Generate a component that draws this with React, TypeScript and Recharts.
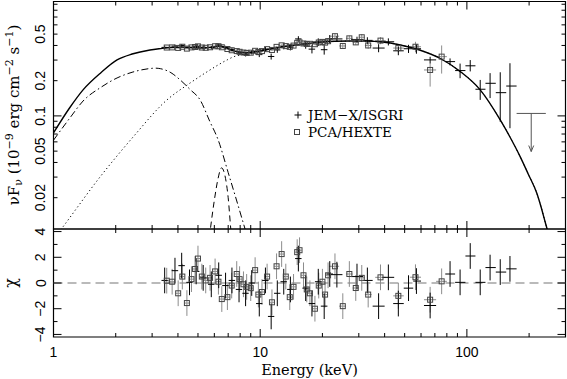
import React from "react";
import {
  ComposedChart,
  Line,
  Scatter,
  XAxis,
  YAxis,
  ErrorBar,
  ReferenceArea,
  ReferenceLine,
} from "recharts";

// ---------- layout ----------
const W = 567;
const H = 379;
const LEFT = 53.5;
const RIGHT = 565.5;
const TOP1 = 1.5;
const MID = 229;
const BOT2 = 337;
const AX = 1; // minimal axis thickness so that Recharts renders the ticks

const E_MIN = 1;
const E_MAX = 300;
const F_MIN = 0.0108;
const F_MAX = 0.95;
const CHI_MIN = -4.2;
const CHI_MAX = 4.2;

// ---------- ticks ----------
const xTicks = [1, 2, 3, 4, 5, 6, 7, 8, 9, 10, 20, 30, 40, 50, 60, 70, 80, 90, 100, 200];
const xMajor = [1, 10, 100];
const xLabels = [1, 10, 100];
const fluxTicks = [0.02, 0.03, 0.04, 0.05, 0.06, 0.07, 0.08, 0.09, 0.1, 0.2, 0.3, 0.4, 0.5, 0.6, 0.7, 0.8, 0.9];
const fluxMajor = [0.1];
const fluxLabels = [0.02, 0.05, 0.1, 0.2, 0.5];
const chiTicks = [-4, -3, -2, -1, 0, 1, 2, 3, 4];
const chiMajor = [-4, -2, 0, 2, 4];
const chiLabels = [-4, -2, 0, 2, 4];

// ---------- model curves (keV, nuFnu) ----------
const totalE = [1, 1.2, 1.39, 1.7, 2.03, 2.4, 2.93, 3.3, 3.7, 4.2, 4.8, 5.4, 6.0, 6.4, 6.8, 7.2, 7.6, 8.0, 8.6, 9.2, 10, 11, 12, 13, 14.5, 16, 18, 20, 23, 27, 32, 39, 47, 59, 74, 93, 116, 145, 161.6, 181, 198, 218, 228, 241, 260];
const totalV = [0.0716, 0.118, 0.167, 0.235, 0.301, 0.338, 0.366, 0.376, 0.384, 0.387, 0.382, 0.381, 0.388, 0.395, 0.386, 0.367, 0.356, 0.35, 0.347, 0.351, 0.36, 0.371, 0.381, 0.39, 0.401, 0.411, 0.421, 0.428, 0.434, 0.437, 0.436, 0.428, 0.406, 0.366, 0.311, 0.239, 0.167, 0.0924, 0.066, 0.0449, 0.0319, 0.0218, 0.0169, 0.0118, 0.0075];

const compE = [1.0, 1.1, 1.68, 2.43, 3.54, 4.58, 5.53, 6.92, 7.4, 8.6, 10.3, 12.9, 16.2, 21, 27.2, 32, 39, 47, 59, 74, 93, 116, 145, 161.6, 181, 198, 218, 228, 241, 260];
const compV = [0.0088, 0.011, 0.0301, 0.0662, 0.137, 0.191, 0.238, 0.301, 0.319, 0.34, 0.36, 0.389, 0.412, 0.43, 0.436, 0.436, 0.428, 0.406, 0.366, 0.311, 0.239, 0.167, 0.0924, 0.066, 0.0449, 0.0319, 0.0218, 0.0169, 0.0118, 0.0075];

const diskE = [1, 1.2, 1.39, 1.7, 2.03, 2.4, 2.93, 3.1, 3.3, 3.7, 4.1, 4.6, 5.12, 5.7, 6.26, 7.0, 7.6, 8.45, 9.0];
const diskV = [0.062, 0.096, 0.134, 0.176, 0.211, 0.236, 0.254, 0.256, 0.253, 0.234, 0.203, 0.167, 0.137, 0.09, 0.0624, 0.0328, 0.0203, 0.0108, 0.0075];

const lineE = [5.6, 5.75, 6.0, 6.25, 6.5, 6.75, 7.0, 7.2, 7.35];
const lineV = [0.0075, 0.011, 0.019, 0.029, 0.036, 0.031, 0.02, 0.011, 0.0075];

// ---------- PCA ----------
const pcaE = [3.53, 3.75, 4.01, 4.2, 4.42, 4.65, 4.84, 5.0, 5.22, 5.45, 5.72, 6.05, 6.28, 6.52, 6.94, 7.28, 7.7, 7.95, 8.3, 8.6, 9.0, 9.45, 9.8, 10.2, 10.8, 11.4, 12.0, 12.7, 13.3, 13.9, 14.5, 15.1, 15.5, 16.2, 16.8, 17.4, 18.4, 19.2, 20.0, 20.6, 21.3];
const pcaHalf = [0.09, 0.09, 0.1, 0.1, 0.11, 0.12, 0.12, 0.12, 0.13, 0.14, 0.14, 0.15, 0.16, 0.16, 0.17, 0.18, 0.19, 0.2, 0.21, 0.21, 0.22, 0.24, 0.25, 0.26, 0.27, 0.28, 0.3, 0.32, 0.33, 0.35, 0.36, 0.38, 0.39, 0.4, 0.42, 0.44, 0.46, 0.48, 0.5, 0.52, 0.53];
const pcaFlux = [0.384, 0.385, 0.381, 0.39, 0.376, 0.385, 0.388, 0.393, 0.384, 0.382, 0.386, 0.394, 0.394, 0.386, 0.373, 0.364, 0.358, 0.353, 0.348, 0.345, 0.347, 0.36, 0.352, 0.358, 0.372, 0.366, 0.389, 0.401, 0.395, 0.389, 0.399, 0.421, 0.425, 0.416, 0.412, 0.413, 0.41, 0.424, 0.429, 0.423, 0.435];
const pcaErr = [0.005, 0.005, 0.005, 0.005, 0.005, 0.005, 0.005, 0.005, 0.005, 0.005, 0.006, 0.006, 0.006, 0.006, 0.006, 0.006, 0.006, 0.006, 0.006, 0.006, 0.007, 0.007, 0.007, 0.007, 0.007, 0.007, 0.007, 0.007, 0.007, 0.007, 0.008, 0.008, 0.008, 0.008, 0.008, 0.008, 0.008, 0.008, 0.008, 0.008, 0.008];
const pcaChi = [0.18, 0.1, -0.8, 0.5, -1.56, 0.3, 1.09, 1.9, 0.5, 0.2, 0.4, 0.9, 0.1, -1.25, -1.1, -0.2, 0.7, 0.3, -0.1, -0.3, -0.4, 1.0, -0.9, -0.7, 0.5, -1.5, 1.3, 2.25, 0.5, -1.1, -0.3, 2.4, 2.55, 0.6, -0.5, -0.8, -2.0, -0.2, 0.1, -0.9, 0.6];

// ---------- HEXTE ----------
const hexE = [23.0, 25.1, 27.0, 29.0, 31.0, 33.3, 38.2, 46.6, 56.4, 66.4, 75.5];
const hexLo = [21.6, 24.1, 26.0, 28.0, 30.0, 32.1, 36.0, 44.0, 53.0, 62.0, 71.0];
const hexHi = [24.1, 26.0, 28.0, 30.0, 32.1, 34.6, 40.5, 49.5, 60.0, 71.0, 80.0];
const hexFlux = [0.48, 0.396, 0.46, 0.425, 0.47, 0.4, 0.44, 0.38, 0.39, 0.247, 0.321];
const hexFluxLo = [0.455, 0.378, 0.435, 0.405, 0.44, 0.375, 0.41, 0.35, 0.35, 0.178, 0.23];
const hexFluxHi = [0.505, 0.414, 0.485, 0.445, 0.5, 0.425, 0.47, 0.41, 0.43, 0.28, 0.4];
const hexChi = [1.3, -1.8, 0.7, -0.39, 0.4, -0.9, 0.44, -1.0, 0.45, -1.3, 0.13];

// ---------- JEM-X ----------
const jemE = [3.45, 3.87, 4.17, 4.55, 4.9, 5.3, 5.8, 6.3, 6.8, 7.3, 7.9, 8.5, 9.1, 9.9, 10.6, 11.3, 12.1, 13.0, 14.0, 15.3, 16.6, 17.8, 19.1, 20.4, 21.7];
const jemHalf = [0.12, 0.14, 0.15, 0.16, 0.18, 0.19, 0.21, 0.23, 0.25, 0.26, 0.28, 0.3, 0.33, 0.35, 0.38, 0.4, 0.43, 0.46, 0.5, 0.55, 0.6, 0.65, 0.7, 0.75, 0.8];
const jemFlux = [0.385, 0.395, 0.4, 0.386, 0.393, 0.386, 0.384, 0.403, 0.383, 0.369, 0.343, 0.336, 0.35, 0.334, 0.371, 0.322, 0.366, 0.392, 0.386, 0.455, 0.403, 0.372, 0.428, 0.368, 0.455];
const jemErr = [0.012, 0.012, 0.01, 0.012, 0.012, 0.012, 0.013, 0.013, 0.014, 0.014, 0.014, 0.014, 0.015, 0.016, 0.017, 0.019, 0.02, 0.021, 0.023, 0.025, 0.028, 0.03, 0.032, 0.034, 0.036];
const jemChi = [0.2, 0.96, 1.35, 0.05, 0.9, 0.4, -0.1, 0.6, -0.2, 0.2, -0.5, -0.8, 0.0, -1.6, 0.2, -2.6, -0.8, 0.1, -0.5, 1.9, -0.4, -1.6, 0.1, -1.8, 0.7];

// ---------- ISGRI ----------
const isgE = [23.5, 29.4, 33.0, 37.4, 41.7, 46.6, 52.2, 57.0, 66.4, 82.9, 92.7, 103.8, 116, 129.5, 145, 161.6];
const isgLo = [22, 27.5, 31.5, 35, 39, 44, 49.5, 55, 62, 78.6, 87.7, 98.4, 110, 123, 138, 155];
const isgHi = [25, 31.5, 35, 40, 44.5, 49.5, 55, 60, 71, 87.7, 98.4, 110, 123, 138, 155, 174];
const isgFlux = [0.455, 0.45, 0.442, 0.38, 0.43, 0.36, 0.375, 0.375, 0.301, 0.291, 0.244, 0.268, 0.169, 0.19, 0.158, 0.18];
const isgFluxLo = [0.43, 0.425, 0.41, 0.35, 0.4, 0.33, 0.345, 0.34, 0.28, 0.27, 0.21, 0.24, 0.137, 0.142, 0.089, 0.0785];
const isgFluxHi = [0.48, 0.475, 0.47, 0.41, 0.46, 0.39, 0.405, 0.41, 0.32, 0.31, 0.28, 0.3, 0.203, 0.232, 0.236, 0.282];
const isgChi = [0.65, 0.5, 0.2, -1.8, 0.44, -1.6, -0.4, 0.15, -1.75, 0.7, 0.05, 2.1, 0.05, 1.2, 0.85, 1.1];

// ---------- ISGRI upper limit ----------
const ulE = [204.8];
const ulLo = [174];
const ulHi = [241];
const ulV = [0.105];
const ulTip = [0.0496];

// ---------- tables built from the arrays ----------
const curve = (es: number[], vs: number[]) => es.map((e, i) => ({ e, v: vs[i] }));
const totalData = curve(totalE, totalV);
const compData = curve(compE, compV);
const diskData = curve(diskE, diskV);
const lineData = curve(lineE, lineV);

const pcaTop = [
  ...pcaE.map((e, i) => ({ e, v: pcaFlux[i], ex: [pcaHalf[i], pcaHalf[i]], ey: [pcaErr[i], pcaErr[i]] })),
  ...hexE.map((e, i) => ({
    e,
    v: hexFlux[i],
    ex: [e - hexLo[i], hexHi[i] - e],
    ey: [hexFlux[i] - hexFluxLo[i], hexFluxHi[i] - hexFlux[i]],
  })),
];
const jemTop = [
  ...jemE.map((e, i) => ({ e, v: jemFlux[i], ex: [jemHalf[i], jemHalf[i]], ey: [jemErr[i], jemErr[i]] })),
  ...isgE.map((e, i) => ({
    e,
    v: isgFlux[i],
    ex: [e - isgLo[i], isgHi[i] - e],
    ey: [isgFlux[i] - isgFluxLo[i], isgFluxHi[i] - isgFlux[i]],
  })),
];
const ulData = ulE.map((e, i) => ({ e, v: ulV[i], ex: [e - ulLo[i], ulHi[i] - e], ey: [ulV[i] - ulTip[i], 0] }));
const ulTipData = ulE.map((e, i) => ({ e, v: ulTip[i] }));

const pcaRes = [
  ...pcaE.map((e, i) => ({ e, v: pcaChi[i], ex: [pcaHalf[i], pcaHalf[i]], ey: 1 })),
  ...hexE.map((e, i) => ({ e, v: hexChi[i], ex: [e - hexLo[i], hexHi[i] - e], ey: 1 })),
];
const jemRes = [
  ...jemE.map((e, i) => ({ e, v: jemChi[i], ex: [jemHalf[i], jemHalf[i]], ey: 1 })),
  ...isgE.map((e, i) => ({ e, v: isgChi[i], ex: [e - isgLo[i], isgHi[i] - e], ey: 1 })),
];

// ---------- styles ----------
const SANS = "'Liberation Sans', Arial, sans-serif";
const SERIF = "'DejaVu Serif', 'Liberation Serif', serif";
const GRAY_BAR = "#8c8c8c";
const SQUARE = "#444";

// ---------- tick renderers ----------
function makeXTick(top: number, bottom: number, withLabels: boolean) {
  return (props: any) => {
    const { x, payload } = props;
    const v = payload.value as number;
    const len = xMajor.includes(v) ? 8 : 4;
    return (
      <g>
        <line x1={x} x2={x} y1={bottom} y2={bottom - len} stroke="#000" strokeWidth={1} />
        <line x1={x} x2={x} y1={top} y2={top + len} stroke="#000" strokeWidth={1} />
        {withLabels && xLabels.includes(v) ? (
          <text x={x} y={bottom + 20} textAnchor="middle" fontFamily={SANS} fontSize={14} fill="#000">
            {String(v)}
          </text>
        ) : null}
      </g>
    );
  };
}

function makeYTick(majors: number[], labels: number[]) {
  return (props: any) => {
    const { y, payload } = props;
    const v = payload.value as number;
    const len = majors.includes(v) ? 8 : 4;
    const lx = LEFT - 8;
    const txt = v < 0 ? "\u2212" + String(-v) : String(v);
    return (
      <g>
        <line x1={LEFT} x2={LEFT + len} y1={y} y2={y} stroke="#000" strokeWidth={1} />
        <line x1={RIGHT} x2={RIGHT - len} y1={y} y2={y} stroke="#000" strokeWidth={1} />
        {labels.includes(v) ? (
          <text
            x={lx}
            y={y}
            transform={`rotate(-90 ${lx} ${y})`}
            textAnchor="middle"
            fontFamily={SANS}
            fontSize={14}
            fill="#000"
          >
            {txt}
          </text>
        ) : null}
      </g>
    );
  };
}

const squareShape = (props: any) => {
  const { cx, cy } = props;
  if (cx == null || cy == null) return <g />;
  return <rect x={cx - 2.5} y={cy - 2.5} width={5} height={5} fill="none" stroke={SQUARE} strokeWidth={1} />;
};
const noShape = () => <g />;
const arrowShape = (props: any) => {
  const { cx, cy } = props;
  if (cx == null || cy == null) return <g />;
  return (
    <path d={`M${cx - 2.5},${cy - 6} L${cx},${cy} L${cx + 2.5},${cy - 6}`} fill="none" stroke="#555" strokeWidth={1} />
  );
};

export default function App() {
  return (
    <div style={{ position: "absolute", left: 0, top: 0, width: W, height: H, background: "#fff" }}>
      {/* ---------- upper panel ---------- */}
      <div style={{ position: "absolute", left: 0, top: 0 }}>
        <ComposedChart
          width={W}
          height={H}
          margin={{ top: TOP1, right: W - RIGHT, bottom: H - MID - AX, left: LEFT - AX }}
        >
          <XAxis
            type="number"
            dataKey="e"
            scale="log"
            domain={[E_MIN, E_MAX]}
            allowDataOverflow
            ticks={xTicks}
            interval={0}
            tickSize={0}
            tickMargin={0}
            axisLine={false}
            tickLine={false}
            height={AX}
            tick={makeXTick(TOP1, MID, false)}
          />
          <YAxis
            type="number"
            scale="log"
            domain={[F_MIN, F_MAX]}
            allowDataOverflow
            ticks={fluxTicks}
            interval={0}
            tickSize={0}
            tickMargin={0}
            axisLine={false}
            tickLine={false}
            width={AX}
            tick={makeYTick(fluxMajor, fluxLabels)}
          />
          <ReferenceArea
            x1={E_MIN}
            x2={E_MAX}
            y1={F_MIN}
            y2={F_MAX}
            fill="none"
            fillOpacity={0}
            stroke="#000"
            strokeWidth={1.2}
            ifOverflow="visible"
          />
          <Scatter data={pcaTop} dataKey="v" shape={squareShape} isAnimationActive={false}>
            <ErrorBar dataKey="ex" direction="x" width={0} stroke={GRAY_BAR} strokeWidth={1} isAnimationActive={false} />
            <ErrorBar dataKey="ey" direction="y" width={0} stroke={GRAY_BAR} strokeWidth={1} isAnimationActive={false} />
          </Scatter>
          <Scatter data={jemTop} dataKey="v" shape={noShape} isAnimationActive={false}>
            <ErrorBar dataKey="ex" direction="x" width={0} stroke="#000" strokeWidth={1} isAnimationActive={false} />
            <ErrorBar dataKey="ey" direction="y" width={0} stroke="#000" strokeWidth={1} isAnimationActive={false} />
          </Scatter>
          <Scatter data={ulData} dataKey="v" shape={noShape} isAnimationActive={false}>
            <ErrorBar dataKey="ex" direction="x" width={0} stroke="#555" strokeWidth={1} isAnimationActive={false} />
            <ErrorBar dataKey="ey" direction="y" width={0} stroke="#555" strokeWidth={1} isAnimationActive={false} />
          </Scatter>
          <Scatter data={ulTipData} dataKey="v" shape={arrowShape} isAnimationActive={false} />
          <Line data={compData} dataKey="v" type="monotone" stroke="#000" strokeWidth={1} strokeDasharray="1.2 2.8" dot={false} isAnimationActive={false} />
          <Line data={diskData} dataKey="v" type="monotone" stroke="#000" strokeWidth={1} strokeDasharray="7 3 1.5 3" dot={false} isAnimationActive={false} />
          <Line data={lineData} dataKey="v" type="monotone" stroke="#000" strokeWidth={1} strokeDasharray="6 4" dot={false} isAnimationActive={false} />
          <Line data={totalData} dataKey="v" type="monotone" stroke="#000" strokeWidth={1.4} dot={false} isAnimationActive={false} />
        </ComposedChart>
      </div>

      {/* ---------- residual panel ---------- */}
      <div style={{ position: "absolute", left: 0, top: 0 }}>
        <ComposedChart
          width={W}
          height={H}
          margin={{ top: MID, right: W - RIGHT, bottom: H - BOT2 - AX, left: LEFT - AX }}
        >
          <XAxis
            type="number"
            dataKey="e"
            scale="log"
            domain={[E_MIN, E_MAX]}
            allowDataOverflow
            ticks={xTicks}
            interval={0}
            tickSize={0}
            tickMargin={0}
            axisLine={false}
            tickLine={false}
            height={AX}
            tick={makeXTick(MID, BOT2, true)}
          />
          <YAxis
            type="number"
            domain={[CHI_MIN, CHI_MAX]}
            allowDataOverflow
            ticks={chiTicks}
            interval={0}
            tickSize={0}
            tickMargin={0}
            axisLine={false}
            tickLine={false}
            width={AX}
            tick={makeYTick(chiMajor, chiLabels)}
          />
          <ReferenceArea
            x1={E_MIN}
            x2={E_MAX}
            y1={CHI_MIN}
            y2={CHI_MAX}
            fill="none"
            fillOpacity={0}
            stroke="#000"
            strokeWidth={1.2}
            ifOverflow="visible"
          />
          <ReferenceLine y={0} stroke="#777" strokeWidth={1.2} strokeDasharray="9 5" />
          <Scatter data={pcaRes} dataKey="v" shape={squareShape} isAnimationActive={false}>
            <ErrorBar dataKey="ex" direction="x" width={0} stroke={GRAY_BAR} strokeWidth={1} isAnimationActive={false} />
            <ErrorBar dataKey="ey" direction="y" width={0} stroke={GRAY_BAR} strokeWidth={1} isAnimationActive={false} />
          </Scatter>
          <Scatter data={jemRes} dataKey="v" shape={noShape} isAnimationActive={false}>
            <ErrorBar dataKey="ex" direction="x" width={0} stroke="#000" strokeWidth={1} isAnimationActive={false} />
            <ErrorBar dataKey="ey" direction="y" width={0} stroke="#000" strokeWidth={1} isAnimationActive={false} />
          </Scatter>
        </ComposedChart>
      </div>

      {/* ---------- titles and legend ---------- */}
      <svg
        width={W}
        height={H}
        style={{ position: "absolute", left: 0, top: 0, pointerEvents: "none" }}
      >
        <text
          x={18.5}
          y={115}
          transform="rotate(-90 18.5 115)"
          textAnchor="middle"
          fontFamily={SERIF}
          fontSize={15}
          fill="#000"
        >
          <tspan>νF</tspan>
          <tspan dy={3} fontSize={11}>ν</tspan>
          <tspan dy={-3}> (10</tspan>
          <tspan dy={-6} fontSize={11}>−9</tspan>
          <tspan dy={6}> erg cm</tspan>
          <tspan dy={-6} fontSize={11}>−2</tspan>
          <tspan dy={6}> s</tspan>
          <tspan dy={-6} fontSize={11}>−1</tspan>
          <tspan dy={6}>)</tspan>
        </text>
        <text
          x={16}
          y={283}
          transform="rotate(-90 16 283)"
          textAnchor="middle"
          fontFamily={SERIF}
          fontSize={16}
          fill="#000"
        >
          χ
        </text>
        <text x={309.5} y={375} textAnchor="middle" fontFamily={SERIF} fontSize={14.5} fill="#000">
          Energy (keV)
        </text>
        <line x1={294.5} x2={301.5} y1={115} y2={115} stroke="#000" strokeWidth={1} />
        <line x1={298} x2={298} y1={111.5} y2={118.5} stroke="#000" strokeWidth={1} />
        <text x={308} y={119.5} fontFamily={SERIF} fontSize={13.5} fill="#000">
          JEM−X/ISGRI
        </text>
        <rect x={294.5} y={129.5} width={5} height={5} fill="none" stroke={SQUARE} strokeWidth={1} />
        <text x={308} y={136.5} fontFamily={SERIF} fontSize={13.5} fill="#000">
          PCA/HEXTE
        </text>
      </svg>
    </div>
  );
}
